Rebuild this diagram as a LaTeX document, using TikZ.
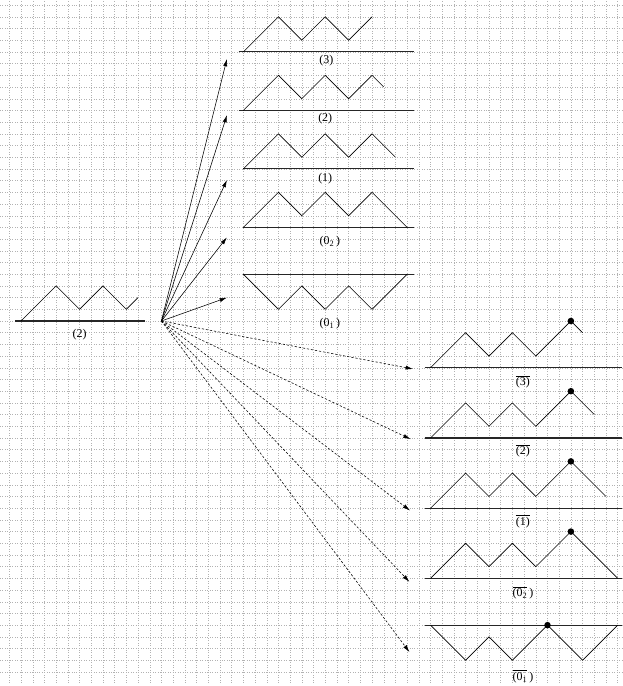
\documentclass[tikz,border=0pt]{standalone}
\usepackage{fontspec}
\setmainfont{Liberation Serif}
\usetikzlibrary{arrows.meta}

\begin{document}
\begin{tikzpicture}[
    x=0.4cm, y=0.4cm,
    gridline/.style={gray!60, dotted, line width=0.4pt},
    baseline rule/.style={line width=1.1pt, black!85},
    walk/.style={line width=0.6pt, line join=miter},
    peakdot/.style={fill=black},
    lbl/.style={anchor=base, inner sep=0pt, font=\fontsize{11.6pt}{13pt}\selectfont},
    move/.style={-{Latex[length=2.5mm, width=1.4mm]}, line width=0.55pt},
    cutmove/.style={move, dash pattern=on 2.2pt off 1.8pt}
  ]
    \useasboundingbox (-0.8,-31.2) rectangle (52.4,27.44);
    \draw[gridline, step=0.4cm] (-0.8,-30.9) grid (52.4,27.44);

    % starting path
    \draw[baseline rule] (0.5,0) -- (11.6,0);
    \draw[walk] (1,0) -- ++(3,3) -- ++(2,-2) -- ++(2,2) -- ++(2,-2) -- ++(1,1);
    \node[lbl] (start) at (6,-1.45) {(2)};
    \coordinate (src) at (13,0);

    % successors
    \draw[baseline rule] (19.6,23) -- (34.6,23);
    \draw[walk] (20,23) -- ++(3,3) -- ++(2,-2) -- ++(2,2) -- ++(2,-2) -- ++(2,2);
    \node[lbl] (s3) at (27.1,22.05) {(3)};

    \draw[baseline rule] (19.6,18) -- (34.6,18);
    \draw[walk] (20,18) -- ++(3,3) -- ++(2,-2) -- ++(2,2) -- ++(2,-2) -- ++(2,2) -- ++(1,-1);
    \node[lbl] (s2) at (27,17.05) {(2)};

    \draw[baseline rule] (20,13) -- (34.6,13);
    \draw[walk] (20,13) -- ++(3,3) -- ++(2,-2) -- ++(2,2) -- ++(2,-2) -- ++(2,2) -- ++(2,-2);
    \node[lbl] (s1) at (27,11.95) {(1)};

    \draw[baseline rule] (20,8) -- (34.6,8);
    \draw[walk] (20,8) -- ++(3,3) -- ++(2,-2) -- ++(2,2) -- ++(2,-2) -- ++(2,2) -- ++(3,-3);
    \node[lbl] (s02) at (27.4,6.5) {(0\textsubscript{2}\,)};

    \draw[baseline rule] (20,4) -- (34.6,4);
    \draw[walk] (20,4) -- ++(3,-3) -- ++(2,2) -- ++(2,-2) -- ++(2,2) -- ++(2,-2) -- ++(3,3);
    \node[lbl] (s01) at (27.4,-0.5) {(0\textsubscript{1}\,)};

    % marked successors
    \draw[baseline rule] (35.5,-4) -- (52.4,-4);
    \draw[walk] (36,-4) -- ++(3,3) -- ++(2,-2) -- ++(2,2) -- ++(2,-2) -- ++(3,3) -- ++(1,-1);
    \fill[peakdot] (48,0) circle (0.28);
    \node[lbl] (m3) at (43.9,-5.52) {$\overline{\mbox{(3)}}$};

    \draw[baseline rule] (35.5,-10) -- (52.4,-10);
    \draw[walk] (36,-10) -- ++(3,3) -- ++(2,-2) -- ++(2,2) -- ++(2,-2) -- ++(3,3) -- ++(2,-2);
    \fill[peakdot] (48,-6) circle (0.28);
    \node[lbl] (m2) at (43.9,-11.45) {$\overline{\mbox{(2)}}$};

    \draw[baseline rule] (35.5,-16) -- (52.4,-16);
    \draw[walk] (36,-16) -- ++(3,3) -- ++(2,-2) -- ++(2,2) -- ++(2,-2) -- ++(3,3) -- ++(3,-3);
    \fill[peakdot] (48,-12) circle (0.28);
    \node[lbl] (m1) at (43.9,-17.45) {$\overline{\mbox{(1)}}$};

    \draw[baseline rule] (35.5,-22) -- (52.4,-22);
    \draw[walk] (36,-22) -- ++(3,3) -- ++(2,-2) -- ++(2,2) -- ++(2,-2) -- ++(3,3) -- ++(4,-4);
    \fill[peakdot] (48,-18) circle (0.28);
    \node[lbl] (m02) at (43.9,-23.55) {$\overline{\mbox{(0\textsubscript{2}}}\mbox{\,)}$};

    \draw[baseline rule] (35.5,-26) -- (52.4,-26);
    \draw[walk] (36,-26) -- ++(3,-3) -- ++(2,2) -- ++(2,-2) -- ++(3,3) -- ++(3,-3) -- ++(3,3);
    \fill[peakdot] (46,-26) circle (0.28);
    \node[lbl] (m01) at (43.9,-30.7) {$\overline{\mbox{(0\textsubscript{1}}}\mbox{\,)}$};

    % arrow ends
    \coordinate (t3) at (18.6,22.4);
    \coordinate (t2) at (18.6,17.6);
    \coordinate (t1) at (18.6,12.05);
    \coordinate (t02) at (18.6,7.15);
    \coordinate (t01) at (18.6,2.0);
    \coordinate (u3) at (34.5,-4.1);
    \coordinate (u2) at (34.3,-10.1);
    \coordinate (u1) at (34.25,-16.2);
    \coordinate (u02) at (34.2,-22.3);
    \coordinate (u01) at (34.2,-28.3);

    \draw[move] (src) -- (t3);
    \draw[move] (src) -- (t2);
    \draw[move] (src) -- (t1);
    \draw[move] (src) -- (t02);
    \draw[move] (src) -- (t01);
    \draw[cutmove] (src) -- (u3);
    \draw[cutmove] (src) -- (u2);
    \draw[cutmove] (src) -- (u1);
    \draw[cutmove] (src) -- (u02);
    \draw[cutmove] (src) -- (u01);
  \end{tikzpicture}
\end{document}
